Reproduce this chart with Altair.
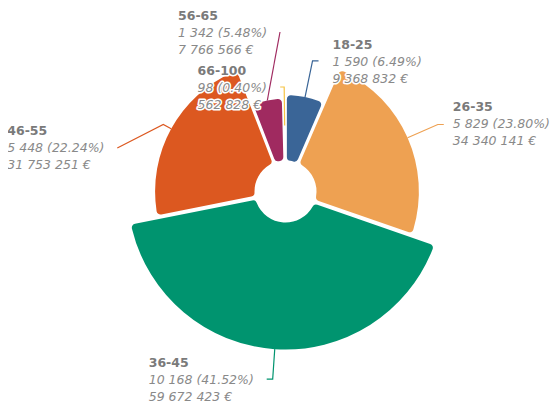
import math
import altair as alt
import pandas as pd

# ---------------- data ----------------
categories = ["18-25", "26-35", "36-45", "46-55", "56-65", "66-100"]
counts = [1590, 5829, 10168, 5448, 1342, 98]
percents = [6.49, 23.80, 41.52, 22.24, 5.48, 0.40]
amounts = [9368832, 34340141, 59672423, 31753251, 7766566, 562828]

# ---------------- style / layout ----------------
colors = ["#3a6597", "#eea152", "#00946f", "#dc5820", "#a02a60", "#f6c343"]
W, H = 544, 395
CX, CY = 277.5, 183.5          # pie centre inside the plot area
R_IN = 31                      # inner radius
R_MIN, R_MAX = 56, 158         # radius scale range (sqrt scale, zero based)
PAD = 0.027
LINE_GAP = 17

# leader-line layout per slice: first leg along the radius, second leg, label offset
layout = {
    "18-25":  dict(leg1=37,   leg2=(6, 0),        lab=(14, 1)),
    "26-35":  dict(leg1=33,   leg2=(6, 0),        lab=(9, -1)),
    "36-45":  dict(leg1=30,   leg2=(-6, 0),       lab=(-118, 1)),
    "46-55":  dict(leg1=9,    leg2=(-46, 23.5),   lab=(-110, 0)),
    "56-65":  dict(leg1=0,    leg2=(12.7, -68.5), lab=(-102, 1)),
    "66-100": dict(leg1=38.6, leg2=(-4, 0),       lab=(-82.6, 1)),
}


def fmt(n):
    return f"{n:,}".replace(",", " ")


df = pd.DataFrame({
    "idx": list(range(len(categories))),
    "cat": categories,
    "count": counts,
    "amount": amounts,
})

# geometry of leaders & labels derived from the data
total = sum(counts)
amax = max(amounts)
line_rows, label_rows = [], []
cum = 0
for i, c in enumerate(categories):
    mid = (cum + counts[i] / 2) / total * 2 * math.pi
    cum += counts[i]
    r = R_MIN + (R_MAX - R_MIN) * math.sqrt(amounts[i] / amax)
    ux, uy = math.sin(mid), -math.cos(mid)
    sx, sy = CX + r * ux, CY + r * uy
    L = layout[c]
    bx, by = sx + L["leg1"] * ux, sy + L["leg1"] * uy
    ex, ey = bx + L["leg2"][0], by + L["leg2"][1]
    for k, (px, py) in enumerate([(sx, sy), (bx, by), (ex, ey)]):
        line_rows.append({"cat": c, "k": k, "px": px, "py": py})
    lx, ly = ex + L["lab"][0], ey + L["lab"][1]
    label_rows.append({
        "cat": c, "lx": lx,
        "y1": ly - LINE_GAP, "y2": ly, "y3": ly + LINE_GAP,
        "t1": c,
        "t2": f"{fmt(counts[i])} ({percents[i]:.2f}%)",
        "t3": f"{fmt(amounts[i])} €",
    })

lines_df = pd.DataFrame(line_rows)
labels_df = pd.DataFrame(label_rows)

color_scale = alt.Scale(domain=categories, range=colors)

arcs = alt.Chart(df).transform_stack(
    stack="count", groupby=[], as_=["t0", "t1"], offset="normalize",
    sort=[alt.SortField("idx", order="ascending")],
).mark_arc(padAngle=PAD, cornerRadius=4, innerRadius=R_IN).encode(
    theta=alt.Theta("t0:Q", scale=alt.Scale(domain=[0, 1], range=[0, 2 * math.pi])),
    theta2="t1:Q",
    radius=alt.Radius("amount:Q", scale=alt.Scale(type="sqrt", zero=True, range=[R_MIN, R_MAX])),
    color=alt.Color("cat:N", scale=color_scale, legend=None),
    x=alt.value(CX),
    y=alt.value(CY),
)

leaders = alt.Chart(lines_df).mark_line(strokeWidth=1.2).encode(
    x=alt.X("px:Q", scale=None, axis=None),
    y=alt.Y("py:Q", scale=None, axis=None),
    detail="cat:N",
    order="k:Q",
    color=alt.Color("cat:N", scale=color_scale, legend=None),
)

FONT = "DejaVu Sans"
FS = 12.5


def text_layer(ycol, tcol, bold, halo):
    props = dict(align="left", baseline="middle", font=FONT, fontSize=FS)
    if bold:
        props["fontWeight"] = "bold"
        col = "#7a7a7a"
    else:
        props["fontStyle"] = "italic"
        col = "#898989"
    if halo:
        props.update(fill="white", stroke="white", strokeWidth=3, strokeJoin="round")
    else:
        props.update(fill=col)
    return alt.Chart(labels_df).mark_text(**props).encode(
        x=alt.X("lx:Q", scale=None, axis=None),
        y=alt.Y(f"{ycol}:Q", scale=None, axis=None),
        text=f"{tcol}:N",
    )


specs = [("y1", "t1", True), ("y2", "t2", False), ("y3", "t3", False)]
halos = [text_layer(y, t, b, True) for y, t, b in specs]
texts = [text_layer(y, t, b, False) for y, t, b in specs]

chart = alt.layer(arcs, leaders, *halos, *texts).properties(
    width=W, height=H, padding=0,
    autosize=alt.AutoSizeParams(type="none"),
).configure_view(stroke=None)

chart.save("out.html", embed_options={"renderer": "svg", "actions": False})
